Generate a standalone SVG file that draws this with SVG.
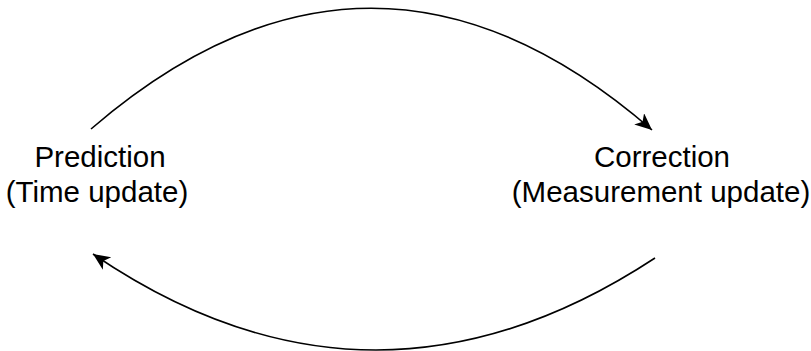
<svg xmlns="http://www.w3.org/2000/svg" width="811" height="351" viewBox="0 0 811 351">
<style>
.lbl{font-family:"Liberation Sans",Arial,sans-serif;font-size:29.5px;fill:#000;text-anchor:middle}
.edge{fill:none;stroke:#000;stroke-width:1.6}
</style>
<defs>
<marker id="ah" markerWidth="20" markerHeight="16" refX="17" refY="7.5" orient="auto" markerUnits="userSpaceOnUse">
<path d="M0,0 L17,7.5 L0,15 L4.5,7.5 Z" fill="#000"/>
</marker>
</defs>
<rect width="811" height="351" fill="#fff"/>
<g id="connectors">
<path class="edge" d="M91,129 Q372,-113 652,130" marker-end="url(#ah)"/>
<path class="edge" d="M655,258 Q372,444 93,254" marker-end="url(#ah)"/>
</g>
<g id="prediction">
<text class="lbl" x="100" y="167">Prediction</text>
<text class="lbl" x="97" y="202">(Time update)</text>
</g>
<g id="correction">
<text class="lbl" x="662" y="167">Correction</text>
<text class="lbl" x="661" y="202">(Measurement update)</text>
</g>
</svg>
